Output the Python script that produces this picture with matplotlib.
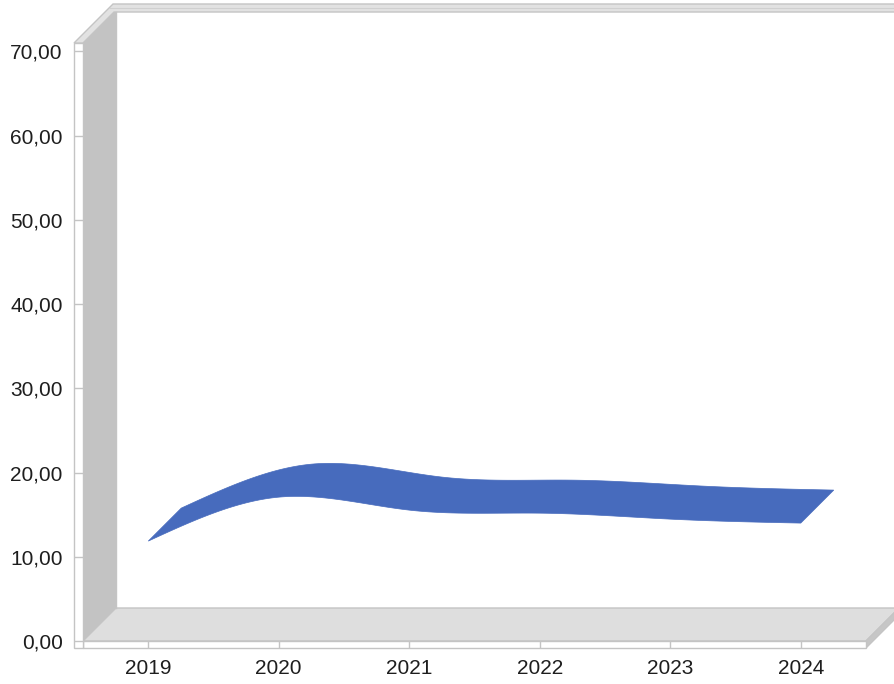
#!/usr/bin/env python
import numpy as np
import matplotlib
matplotlib.use('Agg')
import matplotlib.pyplot as plt
from matplotlib.patches import Polygon


# data
years  = ['2019', '2020', '2021', '2022', '2023', '2024']
values = [11.86, 17.08, 15.54, 15.18, 14.47, 14.00]
yticks = [0, 10, 20, 30, 40, 50, 60, 70]

W, H = 894, 684
# front plane in pixels (from top-left)
fl, fr, ft, fb = 83, 866, 43, 641
depth = 33     # 3d depth offset in px
ymax  = 71.0


def natural_spline(y, n=40):
    """Smooth curve through y at x = 0..len(y)-1 (natural cubic spline)."""
    y = np.asarray(y, dtype=float)
    m = len(y)
    A = np.zeros((m, m))
    r = np.zeros(m)
    A[0, 0], A[0, 1], r[0] = 2., 1., 3. * (y[1] - y[0])
    A[-1, -2], A[-1, -1], r[-1] = 1., 2., 3. * (y[-1] - y[-2])
    for i in range(1, m - 1):
        A[i, i-1], A[i, i], A[i, i+1] = 1., 4., 1.
        r[i] = 3. * (y[i+1] - y[i-1])
    d = np.linalg.solve(A, r)
    xs, ys = [], []
    t = np.linspace(0., 1., n, endpoint=False)
    for i in range(m - 1):
        h00 = 2*t**3 - 3*t**2 + 1
        h10 = t**3 - 2*t**2 + t
        h01 = -2*t**3 + 3*t**2
        h11 = t**3 - t**2
        xs.append(i + t)
        ys.append(h00*y[i] + h10*d[i] + h01*y[i+1] + h11*d[i+1])
    xs.append([m - 1.])
    ys.append([y[-1]])
    return np.concatenate(xs), np.concatenate(ys)


fig = plt.figure(figsize=(W/100., H/100.), dpi=100)

# background frame (walls, floor) in pixel coordinates
bg = fig.add_axes([0, 0, 1, 1], zorder=0)
bg.set_xlim(0, W)
bg.set_ylim(H, 0)
bg.axis('off')

edge = '#c4c4c4'
D = depth
# left wall
bg.add_patch(Polygon([(fl, ft), (fl+D, ft-D), (fl+D, fb-D), (fl, fb)],
                     facecolor='#c3c3c3', edgecolor='none'))
# floor
bg.add_patch(Polygon([(fl, fb), (fl+D, fb-D), (fr+D, fb-D), (fr, fb)],
                     facecolor='#dedede', edgecolor=edge, lw=1))
# floor side face
bg.add_patch(Polygon([(fr, fb), (fr, fb+7), (fr+D, fb+7-D), (fr+D, fb-D)],
                     facecolor='#c6c6c6', edgecolor=edge, lw=1))
# floor front strip
bg.add_patch(Polygon([(fl, fb), (fr, fb), (fr, fb+7), (fl, fb+7)],
                     facecolor='white', edgecolor=edge, lw=1))
# y axis strip
bg.add_patch(Polygon([(fl-9, ft), (fl, ft), (fl, fb+7), (fl-9, fb+7)],
                     facecolor='white', edgecolor=edge, lw=1))
# top bevel
bg.add_patch(Polygon([(fl-9, ft), (fl, ft), (fl+D-2, ft-D+2), (W+5, ft-D+2),
                      (W+5, 4), (fl-9+39, 4)],
                     facecolor='#e2e2e2', edgecolor=edge, lw=1))
bg.plot([fl+D-6, W], [8, 8], color='#d0d0d0', lw=0.8)
bg.plot([fl+D, fl+D], [ft-D+2, fb-D], color=edge, lw=1)

# front plane axes
ax = fig.add_axes([fl/W, 1 - fb/H, (fr-fl)/W, (fb-ft)/H], zorder=1)
ax.patch.set_visible(False)
ax.set_xlim(-0.5, len(years) - 0.5)
ax.set_ylim(0, ymax)
for s in ax.spines.values():
    s.set_visible(False)

font = 'Liberation Sans'
ax.set_yticks(yticks)
ax.set_yticklabels(['{:.2f}'.format(v).replace('.', ',') for v in yticks],
                   family=font, fontsize=15, color='#1e1e1e')
ax.set_xticks(range(len(years)))
ax.set_xticklabels(years, family=font, fontsize=15, color='#1e1e1e')
ax.tick_params(axis='y', length=6.5, width=1, color=edge, pad=8)
ax.tick_params(axis='x', length=5, width=1, color=edge, pad=8)

# ribbon: front curve + back curve shifted by depth
kx = (fr - fl) / float(len(years))
ky = (fb - ft) / ymax
ddx = depth / kx
ddy = depth / ky
xs, ys = natural_spline(values)
verts = np.vstack([np.column_stack([xs, ys]),
                   np.column_stack([xs + ddx, ys + ddy])[::-1]])
ax.add_patch(Polygon(verts, closed=True, facecolor='#476bbd',
                     edgecolor='#476bbd', lw=0.5, clip_on=False))

fig.savefig('out.png', dpi=100)
